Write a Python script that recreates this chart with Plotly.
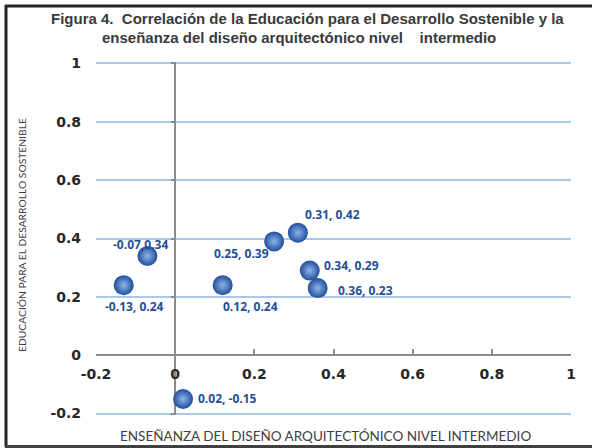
import plotly.graph_objects as go

# ---- data ----
x_vals = [-0.13, -0.07, 0.12, 0.25, 0.31, 0.34, 0.36, 0.02]
y_vals = [0.24, 0.34, 0.24, 0.39, 0.42, 0.29, 0.23, -0.15]
point_labels = ["-0.13, 0.24", "-0.07,0.34", "0.12, 0.24", "0.25, 0.39",
                "0.31, 0.42", "0.34, 0.29", "0.36, 0.23", "0.02, -0.15"]
# label offsets in pixels (style)
label_dx = [11, -7, 28, -33, 35, 42, 48, 44]
label_dy = [-21, 12, -21, -12, 18, 5, -2, 0]

tick_vals = [-0.2, 0, 0.2, 0.4, 0.6, 0.8, 1]
tick_text = ["-0.2", "0", "0.2", "0.4", "0.6", "0.8", "1"]

title_line1 = "Figura 4.\u00a0 Correlación de la Educación para el Desarrollo Sostenible y la"
title_line2 = "enseñanza del diseño arquitectónico nivel\u00a0\u00a0\u00a0 intermedio"
x_title = "ENSEÑANZA DEL DISEÑO ARQUITECTÓNICO NIVEL INTERMEDIO"
y_title = "EDUCACIÓN PARA EL DESARROLLO SOSTENIBLE"

X_RANGE = [-0.2, 1]
Y_RANGE = [-0.205, 1.005]

W, H = 592, 448
L, R, T, B = 96, 21, 62, 33
pw, ph = W - L - R, H - T - B

def fx(px):
    return (px - L) / pw

def fy(py):
    return (H - B - py) / ph

AXIS_GRAY = "#8c8c8c"
GRID_BLUE = "#a9c8ea"
TICK_FONT = dict(family="DejaVu Sans", size=14, color="#262626", weight="bold")

fig = go.Figure()
fig.add_trace(go.Scatter(
    x=x_vals, y=y_vals, mode="markers",
    marker=dict(size=20, color="#1f4f9c",
                gradient=dict(type="radial", color="#8fb4ea"),
                line=dict(width=0)),
    hoverinfo="skip", showlegend=False, cliponaxis=False,
))
# helper trace for the y ticks on the vertical axis at x=0
fig.add_trace(go.Scatter(x=[None], y=[None], yaxis="y2", showlegend=False,
                         hoverinfo="skip"))

annotations = []
for xv, yv, t, dx, dy in zip(x_vals, y_vals, point_labels, label_dx, label_dy):
    annotations.append(dict(
        x=xv, y=yv, xref="x", yref="y", text=t, showarrow=False,
        xanchor="center", yanchor="middle",
        xshift=dx, yshift=dy,
        font=dict(family="Open Sans", size=12, color="#1f4e9a", weight="bold"),
    ))

annotations += [
    dict(text="<b>" + title_line1 + "</b>", xref="paper", yref="paper",
         x=fx(307), y=fy(19), showarrow=False, xanchor="center", yanchor="middle",
         font=dict(family="Liberation Sans", size=15, color="#3a3a3a")),
    dict(text="<b>" + title_line2 + "</b>", xref="paper", yref="paper",
         x=fx(299), y=fy(38), showarrow=False, xanchor="center", yanchor="middle",
         font=dict(family="Liberation Sans", size=15, color="#3a3a3a")),
    dict(text=x_title, xref="paper", yref="paper", x=fx(325), y=fy(436),
         showarrow=False, xanchor="center", yanchor="middle",
         font=dict(family="Lato", size=13.5, color="#404040")),
    dict(text=y_title, xref="paper", yref="paper", x=fx(22), y=fy(235),
         showarrow=False, textangle=-90, xanchor="center", yanchor="middle",
         font=dict(family="Lato", size=10.3, color="#404040")),
]

shapes = [
    dict(type="line", xref="paper", yref="paper", x0=fx(5), x1=fx(W),
         y0=fy(6), y1=fy(6), line=dict(color="#262626", width=3), layer="above"),
    dict(type="line", xref="paper", yref="paper", x0=fx(6), x1=fx(6),
         y0=fy(5), y1=fy(447), line=dict(color="#262626", width=3), layer="above"),
    dict(type="line", xref="paper", yref="paper", x0=fx(5), x1=fx(W),
         y0=fy(446.5), y1=fy(446.5), line=dict(color="#404040", width=3),
         layer="above"),
]

x_axis_pos = (0 - Y_RANGE[0]) / (Y_RANGE[1] - Y_RANGE[0])
y_axis_pos = (0 - X_RANGE[0]) / (X_RANGE[1] - X_RANGE[0])

fig.update_layout(
    width=W, height=H,
    margin=dict(l=L, r=R, t=T, b=B, autoexpand=False),
    paper_bgcolor="white", plot_bgcolor="white",
    showlegend=False,
    annotations=annotations,
    shapes=shapes,
    xaxis=dict(
        range=X_RANGE, tickvals=tick_vals, ticktext=tick_text,
        showgrid=False, zeroline=True, zerolinecolor=AXIS_GRAY, zerolinewidth=1.5,
        showline=True, linecolor=AXIS_GRAY, linewidth=1.5,
        anchor="free", position=x_axis_pos,
        ticks="inside", ticklen=5, tickcolor=AXIS_GRAY, tickwidth=1.5,
        tickfont=TICK_FONT, ticklabelstandoff=6,
        fixedrange=True,
    ),
    yaxis=dict(
        range=Y_RANGE, tickvals=tick_vals, ticktext=tick_text,
        showgrid=True, gridcolor=GRID_BLUE, gridwidth=1.5,
        zeroline=False, showline=False, ticks="",
        tickfont=TICK_FONT, ticklabelstandoff=14,
        fixedrange=True,
    ),
    yaxis2=dict(
        range=Y_RANGE, tickvals=tick_vals, overlaying="y",
        anchor="free", position=y_axis_pos, side="left",
        showgrid=False, zeroline=False, showline=False,
        ticks="outside", ticklen=4, tickcolor=AXIS_GRAY, tickwidth=1.5,
        showticklabels=False, fixedrange=True,
    ),
)

fig.write_html("out.html", config={"displayModeBar": False},
               post_script="document.body.style.margin='0';")
